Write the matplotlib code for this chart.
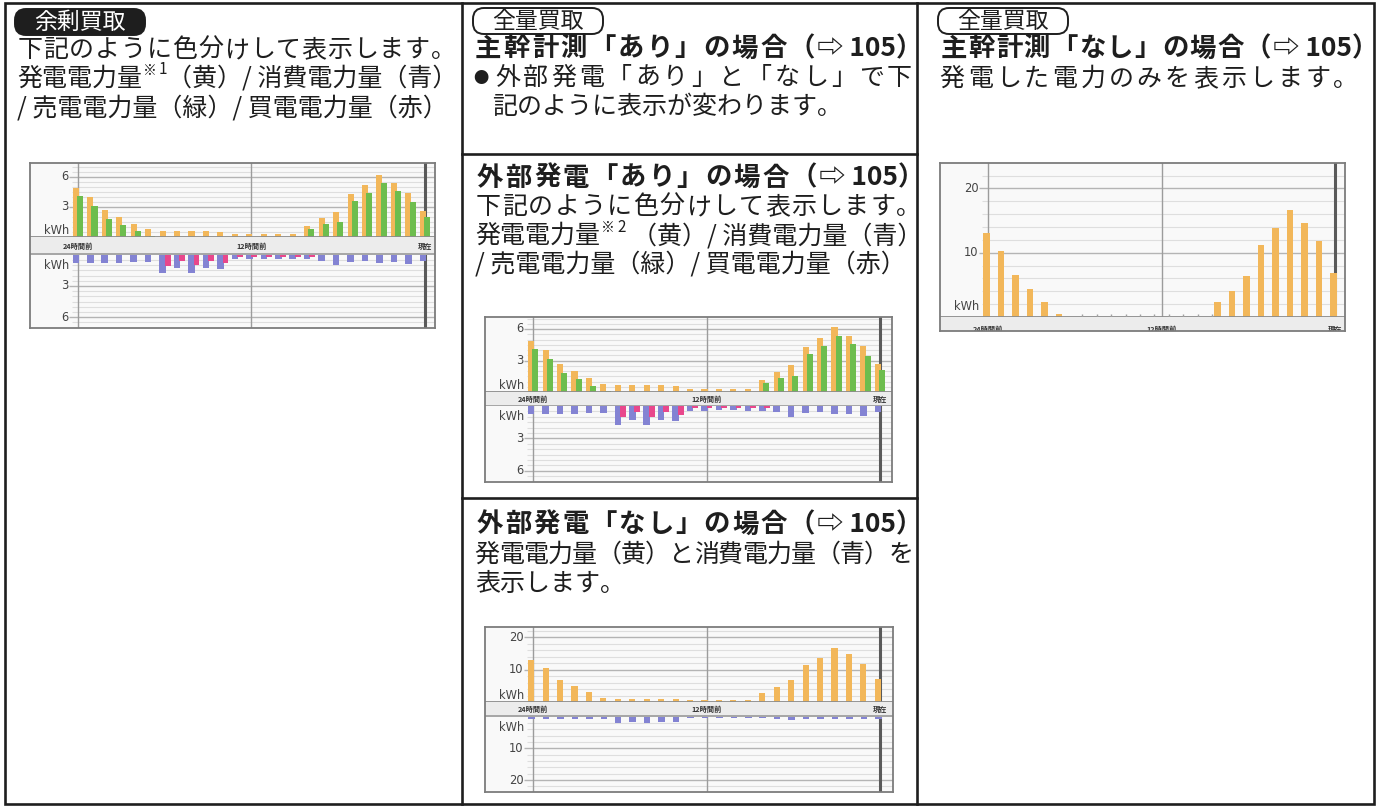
import matplotlib
matplotlib.use('Agg')
import matplotlib.pyplot as plt
import numpy as np
from matplotlib.patches import FancyBboxPatch, Rectangle

plt.rcParams['font.family'] = ['Noto Sans CJK JP', 'DejaVu Sans']

W, H = 1378, 807

# one bar group per hour, from 24 hours ago up to now
hours = np.arange(-24, 1)

# 6 kWh scale charts (余剰買取 / 外部発電「あり」)
gen6 = [4.85, 3.96, 2.7, 1.98, 1.29, 0.8, 0.66, 0.66, 0.66, 0.66, 0.56, 0.33, 0.33,
        0.33, 0.33, 0.33, 1.12, 1.95, 2.54, 4.29, 5.15, 6.17, 5.35, 4.36, 2.64]
sold6 = [4.09, 3.13, 1.82, 1.22, 0.6, 0.1, 0, 0, 0, 0, 0, 0, 0,
         0, 0, 0, 0.83, 1.35, 1.55, 3.6, 4.42, 5.35, 4.59, 3.47, 2.05]
use6 = [0.77, 0.77, 0.77, 0.77, 0.67, 0.67, 1.72, 1.31, 1.72, 1.31, 1.4, 0.42, 0.42,
        0.4, 0.4, 0.42, 0.42, 0.6, 1.0, 0.67, 0.6, 0.77, 0.7, 0.9, 0.6]
buy6 = [0, 0, 0, 0, 0, 0, 1.05, 0.6, 1.0, 0.6, 0.83, 0.2, 0.2,
        0.2, 0.2, 0.2, 0.2, 0, 0, 0, 0, 0, 0, 0, 0]

# 20 kWh scale chart (外部発電「なし」)
gen20 = [12.9, 10.5, 6.9, 4.8, 3.1, 1.3, 0.8, 0.8, 0.8, 0.8, 0.8, 0.5, 0.5,
         0.5, 0.5, 0.5, 2.9, 4.6, 6.7, 11.5, 13.7, 16.8, 14.7, 11.6, 7.2]
use20 = [0.8, 0.8, 0.8, 0.8, 0.8, 0.8, 1.9, 1.6, 1.9, 1.6, 1.6, 0.5, 0.5,
         0.5, 0.5, 0.5, 0.5, 0.8, 0.9, 0.8, 0.8, 0.8, 0.8, 0.8, 0.8]

# 主幹計測「なし」: generation only
gen_only = [13.0, 10.2, 6.5, 4.3, 2.4, 0.4, 0, 0, 0, 0, 0, 0, 0,
            0, 0, 0, 2.3, 4.0, 6.4, 11.2, 13.9, 16.7, 14.6, 11.8, 6.9]

time_pos = [-24, -12, 0]
time_labels = ['24時間前', '12時間前', '現在']

YELLOW = '#f2b75a'
GREEN = '#6dbd4e'
BLUE = '#8383d3'
PINK = '#e8478c'
INK = '#1e1e1e'

fig = plt.figure(figsize=(W / 100, H / 100), dpi=100)
canvas = fig.add_axes([0, 0, 1, 1])
canvas.set_xlim(0, W)
canvas.set_ylim(H, 0)
canvas.axis('off')


def px_axes(x0, y0, x1, y1):
    return fig.add_axes([x0 / W, 1 - y1 / H, (x1 - x0) / W, (y1 - y0) / H])


def bare(ax):
    ax.set_xticks([])
    ax.set_yticks([])
    for s in ax.spines.values():
        s.set_visible(False)


def grid_labels(ax, top, minor, every, kwh, gx, lx, xr):
    n = int(top / minor)
    for k in range(1, n + 1):
        v = k * minor
        if k % every == 0:
            ax.hlines(v, gx - 0.2, xr, color='#b4b4b4', lw=1.0, zorder=1)
            ax.text(lx, v, str(int(v)), ha='right', va='center', fontsize=8.3,
                    color='#444444', family='DejaVu Sans')
        else:
            ax.hlines(v, gx, xr, color='#dedede', lw=0.8, zorder=1)
    ax.text(lx + 0.1, kwh, 'kWh', ha='right', va='center', fontsize=8.3,
            color='#444444', family='DejaVu Sans')


def verticals(ax):
    ax.axvline(-24, color='#9c9c9c', lw=1.0, zorder=2)
    ax.axvline(-12, color='#9c9c9c', lw=1.0, zorder=2)
    ax.axvline(0, color='#5a5a5a', lw=2.2, zorder=2)


def chart(frame, x24, x_now, y_base, y_band, ppu_up, ppu_dn, minor, every,
          kwh_up, kwh_dn, up_bars, dn_bars, label_y=None, ticks=False):
    fx0, fy0, fx1, fy1 = frame
    pph = (x_now - x24) / 24
    xlim = (-24 - (x24 - fx0) / pph, (fx1 - x_now) / pph)
    gx = -24 - 6 / pph
    lx = -24 - 10 / pph

    bg = px_axes(fx0, fy0, fx1, fy1)
    bg.set_facecolor('#f9f9f9')
    bare(bg)

    au = px_axes(fx0, fy0, fx1, y_base)
    au.set_xlim(*xlim)
    top = (y_base - fy0) / ppu_up
    au.set_ylim(0, top)
    au.axis('off')
    grid_labels(au, top, minor, every, kwh_up, gx, lx, xlim[1])
    verticals(au)
    for vals, off, w, c in up_bars:
        au.bar(hours + off, vals, w, color=c, zorder=3, linewidth=0)
    au.axhline(0, color='#8c8c8c', lw=1.3, zorder=4)
    if ticks:
        au.vlines(hours[6:16] + 0.5, 0, 0.45, color='#a0a0a0', lw=1.0, zorder=4)

    ab = px_axes(fx0, y_base, fx1, y_band)
    ab.set_facecolor('#ececec')
    bare(ab)
    ab.set_xlim(*xlim)
    ab.set_ylim(y_band, y_base)
    ly = (y_base + y_band) / 2 if label_y is None else label_y
    for p, t in zip(time_pos, time_labels):
        ab.text(p, ly, t, ha='center', va='center', fontsize=5.2,
                fontweight='bold', color='#333333', clip_on=True)

    if dn_bars is not None:
        ab.axhline(y_band - 0.5, color='#9a9a9a', lw=1.2)
        al = px_axes(fx0, y_band, fx1, fy1)
        al.set_xlim(*xlim)
        bot = (fy1 - y_band) / ppu_dn
        al.set_ylim(bot, 0)
        al.axis('off')
        grid_labels(al, bot, minor, every, kwh_dn, gx, lx, xlim[1])
        verticals(al)
        for vals, off, w, c in dn_bars:
            al.bar(hours + off, vals, w, color=c, zorder=3, linewidth=0)

    fr = px_axes(fx0, fy0, fx1, fy1)
    fr.set_facecolor('none')
    fr.set_xticks([])
    fr.set_yticks([])
    for s in fr.spines.values():
        s.set_color('#7c7c7c')
        s.set_linewidth(1.3)


def put(x, y, s, size=18, weight='normal', ha='left', x_end=None, color=INK):
    if x_end is None:
        canvas.text(x, y, s, fontsize=size, fontweight=weight, ha=ha,
                    va='center', color=color)
    else:
        slot = (x_end - x) / len(s)
        for i, ch in enumerate(s):
            canvas.text(x + (i + 0.5) * slot, y, ch, fontsize=size,
                        fontweight=weight, ha='center', va='center', color=color)


def heading(x, x_mid, y, s):
    # the Japanese part is spread over its slots, the page reference follows
    put(x, y, s, size=19, weight='bold', x_end=x_mid)
    put(x_mid + 1, y, '⇨ 105）', size=19, weight='bold')


def tag(x0, x1, y0, y1, s, filled):
    box = FancyBboxPatch((x0, y0), x1 - x0, y1 - y0,
                         boxstyle='round,pad=0,rounding_size=11',
                         facecolor=INK if filled else 'white',
                         edgecolor=INK, lw=1.4)
    canvas.add_patch(box)
    canvas.text((x0 + x1) / 2, (y0 + y1) / 2 + 0.5, s, fontsize=16.5,
                ha='center', va='center', color='white' if filled else INK)


# table lines
lw_t = 1.9
canvas.add_patch(Rectangle((5, 3), 1369, 801, fill=False, edgecolor=INK, lw=lw_t))
canvas.plot([462, 462], [3, 804], color=INK, lw=lw_t)
canvas.plot([917, 917], [3, 804], color=INK, lw=lw_t)
canvas.plot([462, 917], [154, 154], color=INK, lw=lw_t)
canvas.plot([462, 917], [498, 498], color=INK, lw=lw_t)

# column 1: 余剰買取
tag(15, 145, 9, 35, '余剰買取', True)
put(17, 50, '下記のように色分けして表示します。', x_end=456)
put(17, 79, '発電電力量')
put(143, 71, '※', size=10)
put(159, 70, '1', size=11)
put(457, 79, '（黄）/ 消費電力量（青）', ha='right')
put(17, 108, '/ 売電電力量（緑）/ 買電電力量（赤）')

# column 2: 全量買取 / 主幹計測「あり」
tag(473, 603, 8, 34, '全量買取', False)
heading(474, 816, 49, '主幹計測「あり」の場合（')
put(481, 78, '●', size=11, ha='center')
put(494, 78, '外部発電「あり」と「なし」で下', x_end=913)
put(492, 107, '記のように表示が変わります。')

heading(476, 818, 178, '外部発電「あり」の場合（')
put(475, 207, '下記のように色分けして表示します。', x_end=922)
put(475, 236, '発電電力量')
put(601, 228, '※', size=10)
put(617, 227, '2', size=11)
put(922, 236, '（黄）/ 消費電力量（青）', ha='right')
put(475, 264, '/ 売電電力量（緑）/ 買電電力量（赤）')

heading(476, 816, 525, '外部発電「なし」の場合（')
put(475, 555, '発電電力量（黄）と消費電力量（青）を', x_end=913)
put(475, 584, '表示します。')

# column 3: 全量買取 / 主幹計測「なし」
tag(938, 1068, 8, 34, '全量買取', False)
heading(940, 1272, 49, '主幹計測「なし」の場合（')
put(938, 79, '発電した電力のみを表示します。', x_end=1360)

# charts
chart((30, 163, 435, 328), 78, 425, 237.3, 254.7, 10.1, 10.43, 0.5, 6, 0.66, 1.0,
      [(gen6, -0.15, 0.42, YELLOW), (sold6, 0.14, 0.42, GREEN)],
      [(use6, -0.15, 0.45, BLUE), (buy6, 0.2, 0.4, PINK)])

chart((485, 317, 892, 482), 533.3, 880, 392, 406, 10.5, 10.8, 0.5, 6, 0.66, 1.0,
      [(gen6, -0.15, 0.42, YELLOW), (sold6, 0.14, 0.42, GREEN)],
      [(use6, -0.15, 0.45, BLUE), (buy6, 0.2, 0.4, PINK)])

chart((485, 627, 893, 792), 533.3, 880, 702, 716.7, 3.24, 3.17, 2, 5, 2.1, 3.4,
      [(gen20, -0.15, 0.42, YELLOW)],
      [(use20, -0.12, 0.45, BLUE)])

chart((940, 163, 1345, 331), 988.3, 1335, 317, 331, 6.43, None, 2, 5, 1.6, None,
      [(gen_only, -0.12, 0.45, YELLOW)], None, label_y=329.5, ticks=True)

fig.savefig('out.png', dpi=100)
